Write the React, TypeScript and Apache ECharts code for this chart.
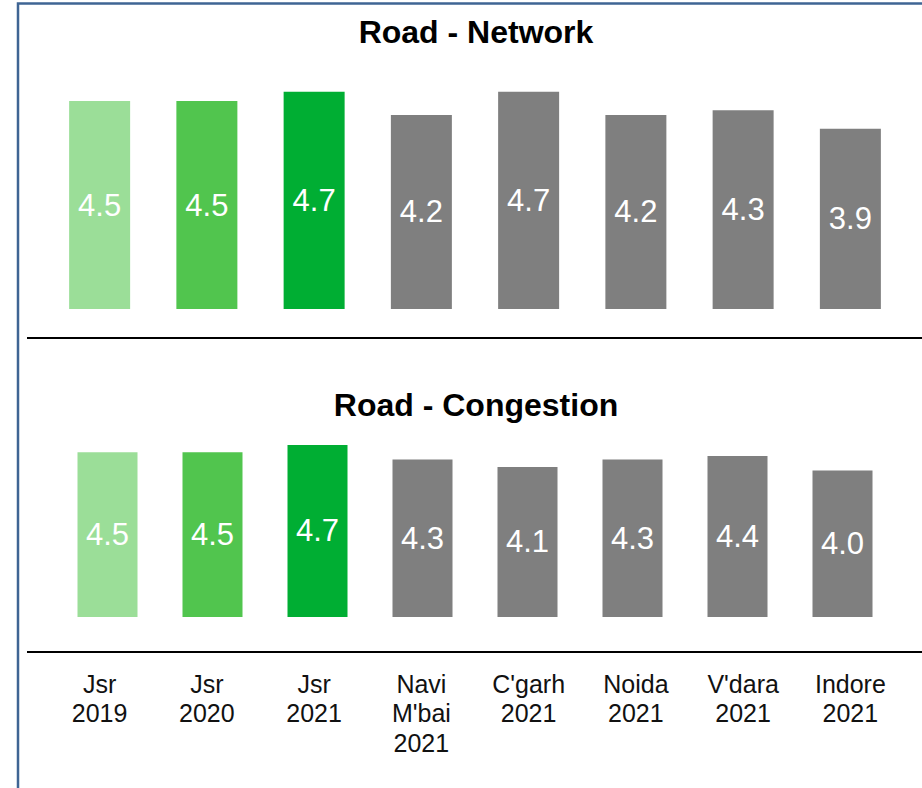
import React, { useEffect, useRef } from "react";
import * as echarts from "echarts";

const categories = [
  "Jsr\n2019",
  "Jsr\n2020",
  "Jsr\n2021",
  "Navi\nM'bai\n2021",
  "C'garh\n2021",
  "Noida\n2021",
  "V'dara\n2021",
  "Indore\n2021",
];
const networkValues = [4.5, 4.5, 4.7, 4.2, 4.7, 4.2, 4.3, 3.9];
const congestionValues = [4.5, 4.5, 4.7, 4.3, 4.1, 4.3, 4.4, 4.0];
const barColors = ["#9BDE98", "#51C54E", "#00AE33", "#7F7F7F", "#7F7F7F", "#7F7F7F", "#7F7F7F", "#7F7F7F"];
const titles = ["Road - Network", "Road - Congestion"];

const FONT = "'Liberation Sans', Arial, sans-serif";

export default function App() {
  const ref = useRef<HTMLDivElement>(null);
  useEffect(() => {
    if (!ref.current) return;
    const chart = echarts.init(ref.current, undefined, { renderer: "svg" });
    const mkData = (vals: number[]) =>
      vals.map((v, i) => ({ value: v, itemStyle: { color: barColors[i] } }));
    const label = {
      show: true,
      position: "inside",
      color: "#fff",
      fontSize: 31,
      fontFamily: FONT,
      formatter: (p: any) => Number(p.value).toFixed(1),
    };
    chart.setOption({
      animation: false,
      backgroundColor: "#fff",
      grid: [
        { left: 46, right: 18, top: 78, height: 231 },
        { left: 55, right: 27, top: 434, height: 183 },
        { left: 46, right: 18, top: 640, height: 12 },
      ],
      xAxis: [
        { type: "category", gridIndex: 0, data: categories, show: false },
        { type: "category", gridIndex: 1, data: categories, show: false },
        {
          type: "category",
          gridIndex: 2,
          data: categories,
          axisLine: { show: false },
          axisTick: { show: false },
          axisLabel: {
            interval: 0,
            margin: 17,
            fontSize: 25,
            lineHeight: 29.5,
            color: "#111",
            fontFamily: FONT,
          },
        },
      ],
      yAxis: [
        { type: "value", gridIndex: 0, min: 0, max: 5, show: false },
        { type: "value", gridIndex: 1, min: 0, max: 5, show: false },
        { type: "value", gridIndex: 2, min: 0, max: 1, show: false },
      ],
      series: [
        {
          type: "bar",
          xAxisIndex: 0,
          yAxisIndex: 0,
          barWidth: 61,
          data: mkData(networkValues),
          label,
        },
        {
          type: "bar",
          xAxisIndex: 1,
          yAxisIndex: 1,
          barWidth: 60,
          data: mkData(congestionValues),
          label,
        },
      ],
      graphic: [
        {
          type: "polyline",
          shape: { points: [[18, 790], [18, 3.5], [924, 3.5]] },
          style: { stroke: "#3F6594", lineWidth: 2.5, fill: "none" },
          silent: true,
        },
        {
          type: "line",
          shape: { x1: 27, y1: 338, x2: 922, y2: 338 },
          style: { stroke: "#000", lineWidth: 2 },
          silent: true,
        },
        {
          type: "line",
          shape: { x1: 27, y1: 652, x2: 922, y2: 652 },
          style: { stroke: "#000", lineWidth: 2 },
          silent: true,
        },
        {
          type: "text",
          x: 476,
          y: 32,
          style: {
            text: titles[0],
            fontSize: 32,
            fontWeight: "bold",
            fontFamily: FONT,
            fill: "#000",
            textAlign: "center",
            textVerticalAlign: "middle",
          },
        },
        {
          type: "text",
          x: 476,
          y: 405,
          style: {
            text: titles[1],
            fontSize: 32,
            fontWeight: "bold",
            fontFamily: FONT,
            fill: "#000",
            textAlign: "center",
            textVerticalAlign: "middle",
          },
        },
      ],
    });
    return () => chart.dispose();
  }, []);
  return (
    <div
      ref={ref}
      style={{ position: "fixed", left: 0, top: 0, width: 922, height: 788 }}
    />
  );
}
